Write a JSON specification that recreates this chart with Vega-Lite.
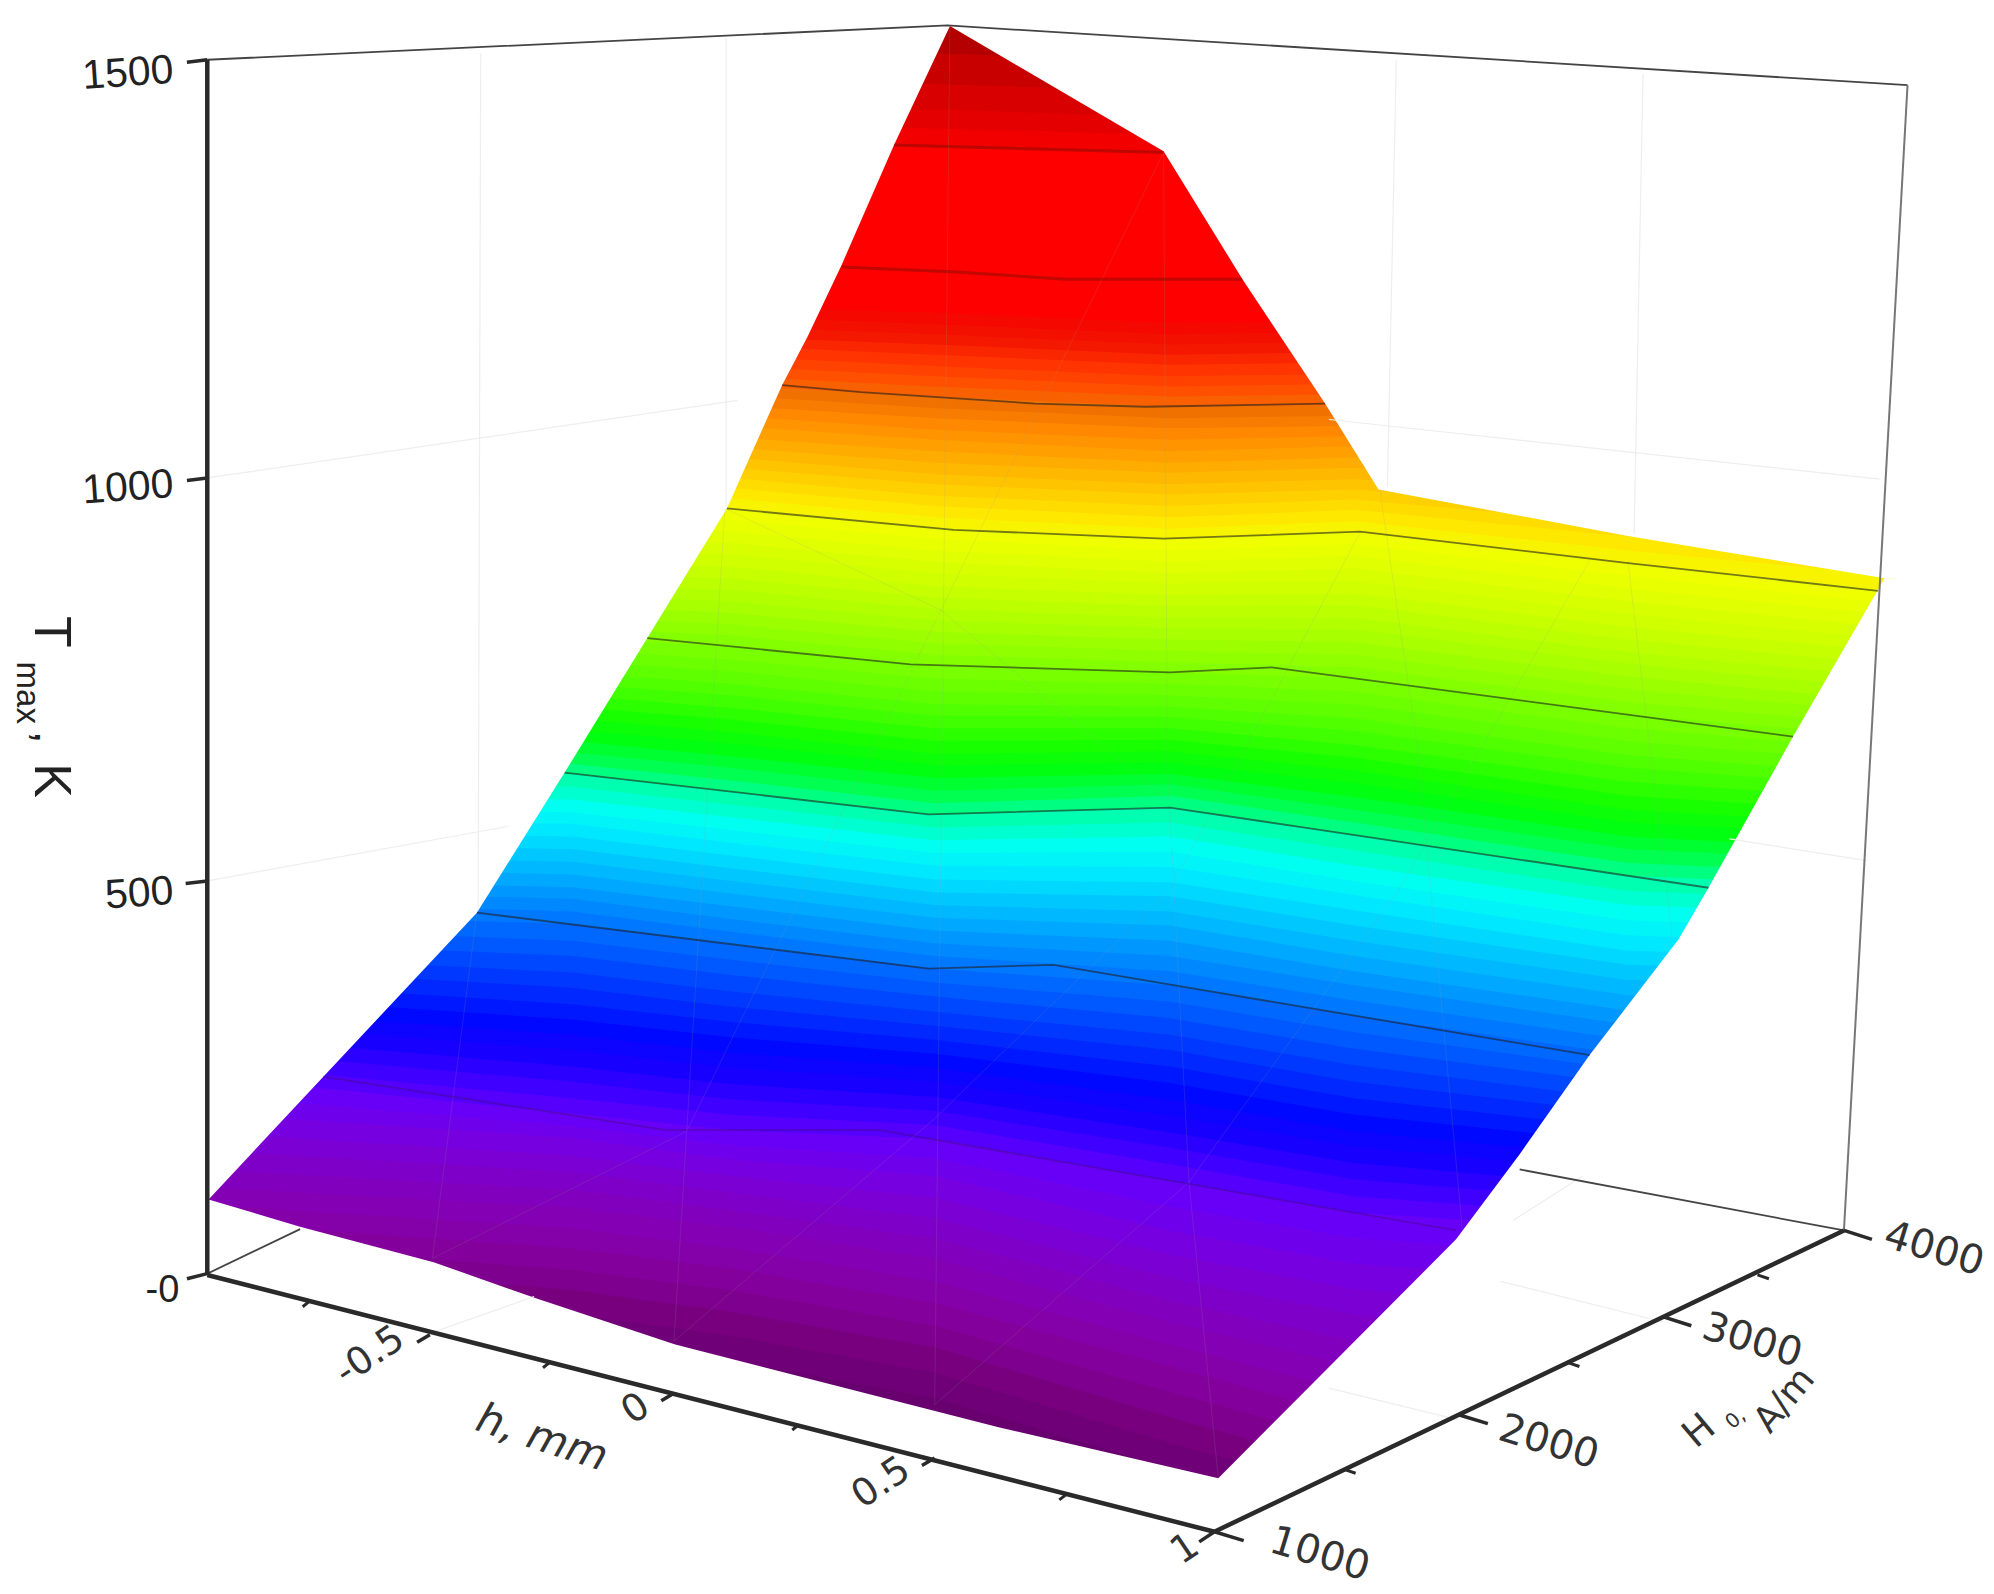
{
  "$schema": "https://vega.github.io/schema/vega-lite/v6.json",
  "width": 1994,
  "height": 1594,
  "padding": 0,
  "autosize": {"type": "fit", "contains": "padding"},
  "background": "white",
  "view": {"stroke": null},
  "datasets": {
    "bands": [
      {"T":1350,"x":[164,450,575,735,920,1065,1280,1490],"y":[10,10,10,10,10,10,10,10]},
      {"T":1320,"x":[164,450,575,735,920,1065,1280,1490],"y":[42,42,42,42,48,48,48,48]},
      {"T":1290,"x":[164,450,575,735,920,1065,1280,1490],"y":[65,65,65,66,72,72,72,72]},
      {"T":1260,"x":[164,450,575,735,920,1065,1280,1490],"y":[85,85,85,86,92,92,92,92]},
      {"T":1230,"x":[164,450,575,735,920,1065,1280,1490],"y":[100,100,100,101,106,106,106,106]},
      {"T":1200,"x":[164,450,575,735,920,1065,1280,1490],"y":[114,114,114,115,120,120,120,120]},
      {"T":1050,"x":[164,450,575,735,920,1065,1280,1490],"y":[210,210,210,213,221,220,220,220]},
      {"T":1025,"x":[164,450,575,735,920,1065,1280,1490],"y":[226,226,226,230,238,236,236,236]},
      {"T":1000,"x":[164,450,575,735,920,1065,1280,1490],"y":[241,241,241,246,254,253,253,253]},
      {"T":987.5,"x":[164,450,575,735,920,1065,1280,1490],"y":[249,249,249,255,263,261,261,261]},
      {"T":975,"x":[164,450,575,735,920,1065,1280,1490],"y":[257,257,257,263,271,269,269,269]},
      {"T":962.5,"x":[164,450,575,735,920,1065,1280,1490],"y":[265,265,265,271,279,277,277,277]},
      {"T":950,"x":[164,450,575,735,920,1065,1280,1490],"y":[272,272,272,279,287,285,285,285]},
      {"T":937.5,"x":[164,450,575,735,920,1065,1280,1490],"y":[280,280,280,288,296,294,294,294]},
      {"T":925,"x":[164,450,575,735,920,1065,1280,1490],"y":[288,288,288,296,304,302,302,302]},
      {"T":912.5,"x":[164,450,575,735,920,1065,1280,1490],"y":[296,296,296,304,312,310,310,310]},
      {"T":900,"x":[164,450,575,735,920,1065,1280,1490],"y":[303,303,303,312,320,318,318,318]},
      {"T":887.5,"x":[164,450,575,735,920,1065,1280,1490],"y":[311,311,311,321,329,327,329,330]},
      {"T":875,"x":[164,450,575,735,920,1065,1280,1490],"y":[319,319,319,329,337,335,339,342]},
      {"T":862.5,"x":[164,450,575,735,920,1065,1280,1490],"y":[327,327,327,338,346,343,350,355]},
      {"T":850,"x":[164,450,575,735,920,1065,1280,1490],"y":[335,335,335,346,355,351,360,367]},
      {"T":837.5,"x":[164,450,575,735,920,1065,1280,1490],"y":[344,344,344,355,364,360,371,379]},
      {"T":825,"x":[164,450,575,735,920,1065,1280,1490],"y":[352,352,352,364,372,368,381,391]},
      {"T":812.5,"x":[164,450,575,735,920,1065,1280,1490],"y":[360,360,360,373,381,377,391,404]},
      {"T":800,"x":[164,450,575,735,920,1065,1280,1490],"y":[368,368,368,381,389,385,401,416]},
      {"T":787.5,"x":[164,450,575,735,920,1065,1280,1490],"y":[376,376,376,390,398,393,412,428]},
      {"T":775,"x":[164,450,575,735,920,1065,1280,1490],"y":[384,384,384,398,407,401,422,440]},
      {"T":762.5,"x":[164,450,575,735,920,1065,1280,1490],"y":[392,392,392,407,416,410,433,453]},
      {"T":750,"x":[164,450,575,735,920,1065,1280,1490],"y":[400,400,400,415,424,418,443,465]},
      {"T":737.5,"x":[164,450,575,735,920,1065,1280,1490],"y":[409,409,409,424,433,428,453,475]},
      {"T":725,"x":[164,450,575,735,920,1065,1280,1490],"y":[417,417,418,433,442,437,463,484]},
      {"T":712.5,"x":[164,450,575,735,920,1065,1280,1490],"y":[426,426,427,442,451,447,473,494]},
      {"T":700,"x":[164,450,575,735,920,1065,1280,1490],"y":[434,434,436,451,459,457,483,503]},
      {"T":687.5,"x":[164,450,575,735,920,1065,1280,1490],"y":[443,443,446,461,468,467,493,513]},
      {"T":675,"x":[164,450,575,735,920,1065,1280,1490],"y":[451,451,455,470,477,476,503,523]},
      {"T":662.5,"x":[164,450,575,735,920,1065,1280,1490],"y":[460,460,464,479,486,486,513,533]},
      {"T":650,"x":[164,450,575,735,920,1065,1280,1490],"y":[468,468,473,488,494,495,522,542]},
      {"T":637.5,"x":[164,450,575,735,920,1065,1280,1490],"y":[477,477,482,497,503,505,532,552]},
      {"T":625,"x":[164,450,575,735,920,1065,1280,1490],"y":[485,485,491,506,512,515,542,561]},
      {"T":612.5,"x":[164,450,575,735,920,1065,1280,1490],"y":[494,494,500,515,521,525,552,571]},
      {"T":600,"x":[164,450,575,735,920,1065,1280,1490],"y":[502,502,509,524,529,534,562,580]},
      {"T":587.5,"x":[164,450,575,735,920,1065,1280,1490],"y":[511,511,519,534,538,544,573,590]},
      {"T":575,"x":[164,450,575,735,920,1065,1280,1490],"y":[520,520,528,544,547,554,583,600]},
      {"T":562.5,"x":[164,450,575,735,920,1065,1280,1490],"y":[529,529,538,554,556,565,594,610]},
      {"T":550,"x":[164,450,575,735,920,1065,1280,1490],"y":[537,538,547,563,564,575,604,619]},
      {"T":537.5,"x":[164,450,575,735,920,1065,1280,1490],"y":[546,547,557,573,573,586,615,629]},
      {"T":525,"x":[164,450,575,735,920,1065,1280,1490],"y":[555,556,566,583,582,596,626,639]},
      {"T":512.5,"x":[164,450,575,735,920,1065,1280,1490],"y":[564,565,576,593,591,606,637,649]},
      {"T":500,"x":[164,450,575,735,920,1065,1280,1490],"y":[573,574,585,602,600,616,647,659]},
      {"T":487.5,"x":[164,450,575,735,920,1065,1280,1490],"y":[582,583,595,612,609,627,658,669]},
      {"T":475,"x":[164,450,575,735,920,1065,1280,1490],"y":[590,592,604,622,617,637,668,678]},
      {"T":462.5,"x":[164,450,575,735,920,1065,1280,1490],"y":[599,601,614,632,626,647,679,688]},
      {"T":450,"x":[164,450,575,735,920,1065,1280,1490],"y":[608,609,623,641,635,657,689,698]},
      {"T":437.5,"x":[164,450,575,735,920,1065,1280,1490],"y":[617,619,633,651,647,669,701,709]},
      {"T":425,"x":[164,450,575,735,920,1065,1280,1490],"y":[626,629,643,661,658,681,712,720]},
      {"T":412.5,"x":[164,450,575,735,920,1065,1280,1490],"y":[636,639,653,671,670,693,724,731]},
      {"T":400,"x":[164,450,575,735,920,1065,1280,1490],"y":[645,648,663,681,682,704,736,742]},
      {"T":387.5,"x":[164,450,575,735,920,1065,1280,1490],"y":[654,658,673,692,694,716,748,753]},
      {"T":375,"x":[164,450,575,735,920,1065,1280,1490],"y":[663,668,683,702,705,728,759,764]},
      {"T":362.5,"x":[164,450,575,735,920,1065,1280,1490],"y":[672,678,693,712,717,740,771,775]},
      {"T":350,"x":[164,450,575,735,920,1065,1280,1490],"y":[681,688,703,722,728,752,783,786]},
      {"T":337.5,"x":[164,450,575,735,920,1065,1280,1490],"y":[691,698,713,732,740,764,795,797]},
      {"T":325,"x":[164,450,575,735,920,1065,1280,1490],"y":[700,707,723,742,752,775,806,808]},
      {"T":312.5,"x":[164,450,575,735,920,1065,1280,1490],"y":[709,717,733,752,764,787,818,819]},
      {"T":300,"x":[164,450,575,735,920,1065,1280,1490],"y":[718,727,743,762,775,799,830,830]},
      {"T":287.5,"x":[164,450,575,735,920,1065,1280,1490],"y":[729,740,755,773,788,812,842,842]},
      {"T":275,"x":[164,450,575,735,920,1065,1280,1490],"y":[740,752,767,784,801,825,853,853]},
      {"T":262.5,"x":[164,450,575,735,920,1065,1280,1490],"y":[751,765,780,796,814,838,865,865]},
      {"T":250,"x":[164,450,575,735,920,1065,1280,1490],"y":[761,777,792,807,826,851,876,876]},
      {"T":237.5,"x":[164,450,575,735,920,1065,1280,1490],"y":[772,790,804,818,839,864,888,888]},
      {"T":225,"x":[164,450,575,735,920,1065,1280,1490],"y":[783,802,816,829,852,877,899,899]},
      {"T":212.5,"x":[164,450,575,735,920,1065,1280,1490],"y":[794,814,828,840,865,890,911,911]},
      {"T":200,"x":[164,450,575,735,920,1065,1280,1490],"y":[804,826,840,851,878,902,922,922]},
      {"T":187.5,"x":[164,450,575,735,920,1065,1280,1490],"y":[815,839,853,863,891,915,934,934]},
      {"T":175,"x":[164,450,575,735,920,1065,1280,1490],"y":[826,851,865,874,903,928,945,945]},
      {"T":162.5,"x":[164,450,575,735,920,1065,1280,1490],"y":[837,864,877,885,916,941,957,957]},
      {"T":150,"x":[164,450,575,735,920,1065,1280,1490],"y":[847,876,889,896,929,954,968,968]},
      {"T":137.5,"x":[164,450,575,735,920,1065,1280,1490],"y":[862,886,901,911,949,974,990,990]},
      {"T":125,"x":[164,450,575,735,920,1065,1280,1490],"y":[876,895,912,925,968,994,1011,1011]},
      {"T":112.5,"x":[164,450,575,735,920,1065,1280,1490],"y":[891,909,925,942,987,1014,1033,1033]},
      {"T":100,"x":[164,450,575,735,920,1065,1280,1490],"y":[905,922,938,958,1005,1034,1054,1054]},
      {"T":87.5,"x":[164,450,575,735,920,1065,1280,1490],"y":[920,936,952,974,1023,1055,1076,1076]},
      {"T":75,"x":[164,450,575,735,920,1065,1280,1490],"y":[934,950,965,990,1040,1075,1097,1097]},
      {"T":62.5,"x":[164,450,575,735,920,1065,1280,1490],"y":[948,966,982,1008,1058,1095,1118,1118]},
      {"T":50,"x":[164,450,575,735,920,1065,1280,1490],"y":[962,982,998,1025,1075,1115,1139,1139]},
      {"T":37.5,"x":[164,450,575,735,920,1065,1280,1490],"y":[977,999,1015,1043,1095,1135,1161,1161]},
      {"T":25,"x":[164,450,575,735,920,1065,1280,1490],"y":[991,1015,1032,1060,1115,1155,1182,1182]},
      {"T":12.5,"x":[164,450,575,735,920,1065,1280,1490],"y":[1006,1034,1051,1080,1135,1175,1204,1204]},
      {"T":0,"x":[164,450,575,735,920,1065,1280,1490],"y":[1020,1052,1070,1100,1155,1195,1225,1225]}
    ],
    "aboveSurface": [
      {"x":[150,164,375,444,509,571.6,615,635,662,703,747,915,977,1042,1084,1280,1482,1510],"y":[943.6,943.6,718,607.8,502,400,303,265,208,114,20.5,119,219.6,317.5,385,421.7,455,455]}
    ],
    "belowSurface": [
      {"x":[150,164,236,341,422,531,786,958,1145,1195,1250,1320,1343.5,1410,1482,1510],"y":[943.6,943.6,965,993,1021.6,1057.8,1123,1163,975,908,830,739,698.4,579.5,455,455]}
    ],
    "contours": [
      {"T":1200,"x":[703,735,915],"y":[114,115,120]},
      {"T":1050,"x":[662,752,838,977],"y":[210,214,219.6,219.6]},
      {"T":900,"x":[615,677,814,901,1042],"y":[303,308.5,317.5,320,317.5]},
      {"T":750,"x":[571.6,750,915,1069.5,1278.6,1476.8],"y":[400,416.8,423.7,418.3,442.8,464.8]},
      {"T":600,"x":[509,716,920,1000,1410],"y":[502,522.6,529,525,579.5]},
      {"T":450,"x":[444,730,920,1022,1343.5],"y":[607.8,640.6,635.4,650.5,698.4]},
      {"T":300,"x":[375,730,828.5,943.6,1250],"y":[718,762,759,778.6,830]},
      {"T":150,"x":[254,524,692,786,1145],"y":[847,889,889,905.5,968]}
    ],
    "mesh": [
      {"id":"a","x":[747,735],"y":[20,1105]},
      {"id":"b","x":[915,918,935,958],"y":[120,600,930,1163]},
      {"id":"c","x":[1085,1115,1150],"y":[385,590,968]},
      {"id":"d","x":[1280,1315],"y":[440,738]},
      {"id":"e","x":[570,540,530],"y":[400,890,1055]},
      {"id":"f","x":[375,340],"y":[718,990]},
      {"id":"g","x":[570,740,918],"y":[400,480,630]},
      {"id":"h","x":[530,735,920,1070],"y":[1055,880,700,418]},
      {"id":"i","x":[735,935,1100,1250],"y":[1105,930,700,441]},
      {"id":"j","x":[340,540,740,915],"y":[990,890,480,120]}
    ],
    "faintGrid": [
      {"id":"wall1","x":[378,376],"y":[42,716]},
      {"id":"wall2","x":[571,571],"y":[30,398]},
      {"id":"wall3","x":[1098,1091],"y":[47,383]},
      {"id":"wall4","x":[1292,1285],"y":[58,420]},
      {"id":"t1000L","x":[163,580],"y":[376,315]},
      {"id":"t500L","x":[163,400],"y":[693,650]},
      {"id":"t1000R","x":[1045,1478],"y":[330,377]},
      {"id":"t500R","x":[1360,1468],"y":[660,677]},
      {"id":"floor1","x":[1180,1308],"y":[1008,1040]},
      {"id":"floor2","x":[1045,1147],"y":[1092,1117]},
      {"id":"floor3","x":[338,420],"y":[1049,1020]},
      {"id":"floor4","x":[1190,1245],"y":[960,925]}
    ],
    "frame": [
      {"id":"top","x":[163,745,1500],"y":[47,20,67]},
      {"id":"floorBack","x":[1195,1450],"y":[920,968]},
      {"id":"floorLeft","x":[163,236],"y":[1002,967]}
    ],
    "rightEdge": [
      {"id":"right","x":[1500,1450],"y":[67,968]}
    ],
    "axes": [
      {"id":"T","x":[163,163],"y":[47,1003]},
      {"id":"h","x":[163,955],"y":[1003,1205]},
      {"id":"H","x":[955,1450],"y":[1205,968]}
    ],
    "majorTicks": [
      {"id":"t0","x":[147,163],"y":[1006,1002]},
      {"id":"t500","x":[146,163],"y":[695,693]},
      {"id":"t1000","x":[147,163],"y":[378,376]},
      {"id":"t1500","x":[147,163],"y":[49,47]},
      {"id":"h1","x":[328,338],"y":[1056,1050]},
      {"id":"h2","x":[520,530],"y":[1102,1096]},
      {"id":"h3","x":[725,735],"y":[1153,1147]},
      {"id":"h4","x":[943,955],"y":[1213,1205]},
      {"id":"H1","x":[955,978],"y":[1205,1212]},
      {"id":"H2","x":[1147,1170],"y":[1113,1120]},
      {"id":"H3","x":[1308,1330],"y":[1036,1043]},
      {"id":"H4","x":[1450,1472],"y":[968,975]}
    ],
    "minorTicks": [
      {"id":"m1","x":[238,243],"y":[1028,1024]},
      {"id":"m2","x":[427,432],"y":[1076,1072]},
      {"id":"m3","x":[623,628],"y":[1125,1121]},
      {"id":"m4","x":[833,838],"y":[1180,1176]},
      {"id":"M1","x":[1057,1066],"y":[1156,1159]},
      {"id":"M2","x":[1233,1242],"y":[1072,1075]},
      {"id":"M3","x":[1382,1391],"y":[1003,1006]}
    ],
    "tLabels": [
      {"label":"1500","x":137,"y":65},
      {"label":"1000","x":137,"y":391},
      {"label":"500","x":137,"y":711}
    ],
    "zeroLabel": [
      {"label":"-0","x":141,"y":1024}
    ],
    "hLabels": [
      {"label":"-0.5","x":296,"y":1074},
      {"label":"0","x":505,"y":1116},
      {"label":"0.5","x":698,"y":1174},
      {"label":"1","x":937,"y":1226}
    ],
    "hTitle": [
      {"label":"h, mm","x":423,"y":1141}
    ],
    "HLabels": [
      {"label":"1000","x":1035,"y":1232},
      {"label":"2000","x":1215,"y":1144},
      {"label":"3000","x":1375,"y":1064},
      {"label":"4000","x":1518,"y":992}
    ],
    "HTitleH": [
      {"label":"H","x":1342,"y":1133}
    ],
    "HTitleSub": [
      {"label":"0,","x":1368,"y":1120}
    ],
    "HTitleUnit": [
      {"label":"A/m","x":1410,"y":1107}
    ],
    "tTitleBig": [
      {"label":"T","x":27.5,"y":497},
      {"label":"K","x":27.5,"y":614}
    ],
    "tTitleSub": [
      {"label":"max","x":13.4,"y":545}
    ],
    "tTitleComma": [
      {"label":",","x":27.5,"y":580}
    ]
  },
  "encoding": {
    "x": {"field": "x", "type": "quantitative", "scale": {"domain": [0, 1568], "nice": false, "zero": false}, "axis": null},
    "y": {"field": "y", "type": "quantitative", "scale": {"domain": [1254, 0], "nice": false, "zero": false}, "axis": null}
  },
  "layer": [
    {
      "data": {"name": "bands"},
      "transform": [{"flatten": ["x", "y"]}],
      "mark": {"type": "area", "orient": "vertical"},
      "encoding": {
        "y2": {"datum": 1254},
        "detail": {"field": "T", "type": "nominal"},
        "color": {
          "field": "T",
          "type": "quantitative",
          "legend": null,
          "scale": {
            "interpolate": "rgb",
            "domain": [0,25,50,75,100,125,150,175,200,225,250,275,300,325,350,375,400,425,450,475,500,525,550,575,600,625,650,675,700,725,750,775,800,825,850,875,900,925,950,975,1000,1025,1050,1200,1230,1260,1290,1320,1350],
            "range": ["#680070","#78007f","#84009c","#8400b4","#7e00c8","#7600e0","#6800f8","#4000ff","#1800ff","#0008ff","#0028ff","#0048ff","#0068ff","#0088ff","#00a8ff","#00c8ff","#00e8ff","#00fff0","#00ffb0","#00ff50","#00ff10","#18ff00","#40ff00","#60ff00","#78ff00","#90ff00","#a8ff00","#bcff00","#d0ff00","#e0ff00","#f0ff00","#ffe800","#ffd000","#ffb800","#ffa000","#ff8800","#f07000","#ff5000","#ff3400","#f41800","#f40800","#ff0000","#ff0000","#ff0000","#f20000","#e40000","#d80000","#c80000","#b40000"]
          }
        }
      }
    },
    {
      "data": {"name": "aboveSurface"},
      "transform": [{"flatten": ["x", "y"]}],
      "mark": {"type": "area", "orient": "vertical", "color": "white"},
      "encoding": {"y2": {"datum": 0}}
    },
    {
      "data": {"name": "belowSurface"},
      "transform": [{"flatten": ["x", "y"]}],
      "mark": {"type": "area", "orient": "vertical", "color": "white"},
      "encoding": {"y2": {"datum": 1254}}
    },
    {
      "data": {"name": "mesh"},
      "transform": [{"flatten": ["x", "y"]}],
      "mark": {"type": "line", "color": "#9a9a9a", "strokeWidth": 1, "opacity": 0.17},
      "encoding": {"detail": {"field": "id", "type": "nominal"}}
    },
    {
      "data": {"name": "contours"},
      "transform": [{"flatten": ["x", "y"]}, {"filter": "datum.T >= 1050"}],
      "mark": {"type": "line", "color": "#501000", "strokeWidth": 3, "opacity": 0.35},
      "encoding": {"detail": {"field": "T", "type": "nominal"}}
    },
    {
      "data": {"name": "contours"},
      "transform": [{"flatten": ["x", "y"]}, {"filter": "datum.T < 1050 && datum.T > 150"}],
      "mark": {"type": "line", "color": "#202020", "strokeWidth": 1.8, "opacity": 0.6},
      "encoding": {"detail": {"field": "T", "type": "nominal"}}
    },
    {
      "data": {"name": "contours"},
      "transform": [{"flatten": ["x", "y"]}, {"filter": "datum.T == 150"}],
      "mark": {"type": "line", "color": "#401060", "strokeWidth": 1.8, "opacity": 0.35},
      "encoding": {"detail": {"field": "T", "type": "nominal"}}
    },
    {
      "data": {"name": "faintGrid"},
      "transform": [{"flatten": ["x", "y"]}],
      "mark": {"type": "line", "color": "#eeeeee", "strokeWidth": 1.2},
      "encoding": {"detail": {"field": "id", "type": "nominal"}}
    },
    {
      "data": {"name": "frame"},
      "transform": [{"flatten": ["x", "y"]}],
      "mark": {"type": "line", "color": "#444444", "strokeWidth": 1.8},
      "encoding": {"detail": {"field": "id", "type": "nominal"}}
    },
    {
      "data": {"name": "rightEdge"},
      "transform": [{"flatten": ["x", "y"]}],
      "mark": {"type": "line", "color": "#777777", "strokeWidth": 2},
      "encoding": {"detail": {"field": "id", "type": "nominal"}}
    },
    {
      "data": {"name": "axes"},
      "transform": [{"flatten": ["x", "y"]}],
      "mark": {"type": "line", "color": "#2a2a2a", "strokeWidth": 4.5},
      "encoding": {"detail": {"field": "id", "type": "nominal"}}
    },
    {
      "data": {"name": "majorTicks"},
      "transform": [{"flatten": ["x", "y"]}],
      "mark": {"type": "line", "color": "#2a2a2a", "strokeWidth": 3.5},
      "encoding": {"detail": {"field": "id", "type": "nominal"}}
    },
    {
      "data": {"name": "minorTicks"},
      "transform": [{"flatten": ["x", "y"]}],
      "mark": {"type": "line", "color": "#2a2a2a", "strokeWidth": 3},
      "encoding": {"detail": {"field": "id", "type": "nominal"}}
    },
    {
      "data": {"name": "tLabels"},
      "mark": {"type": "text", "font": "Liberation Sans", "fontSize": 41, "align": "right", "baseline": "alphabetic", "angle": 356, "color": "#222222"},
      "encoding": {"text": {"field": "label"}}
    },
    {
      "data": {"name": "zeroLabel"},
      "mark": {"type": "text", "font": "Liberation Sans", "fontSize": 38, "align": "right", "baseline": "alphabetic", "color": "#222222"},
      "encoding": {"text": {"field": "label"}}
    },
    {
      "data": {"name": "hLabels"},
      "mark": {"type": "text", "font": "DejaVu Sans", "fontSize": 38, "align": "center", "baseline": "alphabetic", "angle": 326, "color": "#333333"},
      "encoding": {"text": {"field": "label"}}
    },
    {
      "data": {"name": "hTitle"},
      "mark": {"type": "text", "font": "DejaVu Sans", "fontSize": 42, "fontStyle": "italic", "align": "center", "baseline": "alphabetic", "angle": 18, "color": "#333333"},
      "encoding": {"text": {"field": "label"}}
    },
    {
      "data": {"name": "HLabels"},
      "mark": {"type": "text", "font": "DejaVu Sans", "fontSize": 40, "align": "center", "baseline": "alphabetic", "angle": 17, "color": "#333333"},
      "encoding": {"text": {"field": "label"}}
    },
    {
      "data": {"name": "HTitleH"},
      "mark": {"type": "text", "font": "DejaVu Sans", "fontSize": 38, "align": "center", "baseline": "alphabetic", "angle": 320, "color": "#333333"},
      "encoding": {"text": {"field": "label"}}
    },
    {
      "data": {"name": "HTitleSub"},
      "mark": {"type": "text", "font": "DejaVu Sans", "fontSize": 20, "align": "center", "baseline": "alphabetic", "angle": 320, "color": "#333333"},
      "encoding": {"text": {"field": "label"}}
    },
    {
      "data": {"name": "HTitleUnit"},
      "mark": {"type": "text", "font": "DejaVu Sans", "fontSize": 36, "align": "center", "baseline": "alphabetic", "angle": 310, "color": "#333333"},
      "encoding": {"text": {"field": "label"}}
    },
    {
      "data": {"name": "tTitleBig"},
      "mark": {"type": "text", "font": "Liberation Sans", "fontSize": 52, "align": "center", "baseline": "alphabetic", "angle": 90, "color": "#222222"},
      "encoding": {"text": {"field": "label"}}
    },
    {
      "data": {"name": "tTitleSub"},
      "mark": {"type": "text", "font": "Liberation Sans", "fontSize": 33, "align": "center", "baseline": "alphabetic", "angle": 90, "color": "#222222"},
      "encoding": {"text": {"field": "label"}}
    },
    {
      "data": {"name": "tTitleComma"},
      "mark": {"type": "text", "font": "Liberation Sans", "fontSize": 46, "align": "center", "baseline": "alphabetic", "angle": 90, "color": "#222222"},
      "encoding": {"text": {"field": "label"}}
    }
  ]
}
